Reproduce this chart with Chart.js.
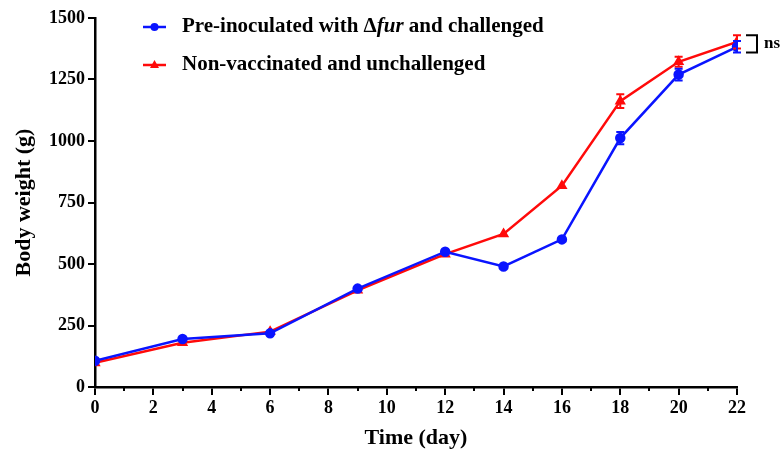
<!DOCTYPE html>
<html>
<head>
<meta charset="utf-8">
<script src="https://cdn.jsdelivr.net/npm/chart.js@4"></script>
<style>
  html, body { margin: 0; padding: 0; background: #fff; }
  #wrap { width: 781px; height: 449px; }
</style>
</head>
<body>
<div id="wrap"><canvas id="myChart"></canvas></div>
<script>
// data
const days = [0, 3, 6, 9, 12, 14, 16, 18, 20, 22];
const preInoculated = [107, 195, 218, 400, 550, 490, 600, 1012, 1270, 1383];
const preInoculatedErr = [8, 8, 8, 8, 8, 8, 8, 25, 24, 23];
const nonVaccinated = [98, 180, 225, 393, 540, 622, 818, 1162, 1322, 1403];
const nonVaccinatedErr = [6, 6, 6, 6, 6, 6, 6, 28, 20, 27];
const yTicks = [0, 250, 500, 750, 1000, 1250, 1500];

const FONT = '"Liberation Serif", "Times New Roman", serif';
const BLUE = "#0a14ff";
const RED = "#ff0a0a";

const toPoints = (vals) => vals.map((v, i) => ({ x: days[i], y: v }));

// error bars with caps
const errorBars = {
  id: "errorBars",
  afterDatasetsDraw(chart) {
    const { ctx, scales } = chart;
    const errs = [preInoculatedErr, nonVaccinatedErr];
    // red first so blue sits on top
    [1, 0].forEach((di) => {
      const ds = chart.data.datasets[di];
      ctx.save();
      ctx.strokeStyle = ds.borderColor;
      ctx.lineWidth = 2;
      ds.data.forEach((p, i) => {
        const e = errs[di][i];
        const x = scales.x.getPixelForValue(p.x);
        const yt = scales.y.getPixelForValue(p.y + e);
        const yb = scales.y.getPixelForValue(p.y - e);
        if (yb - yt < 8) return;
        ctx.beginPath();
        ctx.moveTo(x, yt); ctx.lineTo(x, yb);
        ctx.moveTo(x - 4, yt); ctx.lineTo(x + 4, yt);
        ctx.moveTo(x - 4, yb); ctx.lineTo(x + 4, yb);
        ctx.stroke();
      });
      ctx.restore();
    });
  },
};

// short minor ticks on x, legend with italic "fur", ns bracket
const extras = {
  id: "extras",
  afterDraw(chart) {
    const { ctx, scales } = chart;
    ctx.save();
    ctx.strokeStyle = "#000";
    ctx.lineWidth = 2;
    const y0 = scales.x.top;
    for (let d = 1; d < 22; d += 2) {
      const x = Math.round(scales.x.getPixelForValue(d));
      ctx.beginPath();
      ctx.moveTo(x, y0); ctx.lineTo(x, y0 + 4);
      ctx.stroke();
    }

    const rows = [
      { y: 27, color: BLUE, marker: "circle", parts: [["Pre-inoculated with \u0394", ""], ["fur", "italic "], [" and challenged", ""]] },
      { y: 65, color: RED, marker: "triangle", parts: [["Non-vaccinated and unchallenged", ""]] },
    ];
    rows.forEach((r) => {
      ctx.strokeStyle = r.color;
      ctx.fillStyle = r.color;
      ctx.lineWidth = 2.5;
      ctx.beginPath();
      ctx.moveTo(143, r.y); ctx.lineTo(166, r.y);
      ctx.stroke();
      ctx.beginPath();
      if (r.marker === "circle") {
        ctx.arc(154.5, r.y, 4, 0, Math.PI * 2);
      } else {
        ctx.moveTo(154.5, r.y - 5); ctx.lineTo(159, r.y + 3); ctx.lineTo(150, r.y + 3);
        ctx.closePath();
      }
      ctx.fill();
      ctx.fillStyle = "#000";
      ctx.textBaseline = "middle";
      let x = 182;
      r.parts.forEach(([t, style]) => {
        ctx.font = style + "bold 21px " + FONT;
        ctx.fillText(t, x, r.y);
        x += ctx.measureText(t).width;
      });
    });

    // ns bracket between the two day-22 values
    const n = days.length - 1;
    const top = scales.y.getPixelForValue(nonVaccinated[n] + nonVaccinatedErr[n]);
    const bot = scales.y.getPixelForValue(preInoculated[n] - preInoculatedErr[n]);
    ctx.strokeStyle = "#000";
    ctx.lineWidth = 2;
    ctx.beginPath();
    ctx.moveTo(746, top); ctx.lineTo(757, top); ctx.lineTo(757, bot); ctx.lineTo(746, bot);
    ctx.stroke();
    ctx.fillStyle = "#000";
    ctx.font = "bold 17px " + FONT;
    ctx.textBaseline = "middle";
    ctx.fillText("ns", 764, (top + bot) / 2);
    ctx.restore();
  },
};

new Chart(document.getElementById("myChart"), {
  type: "line",
  data: {
    datasets: [
      {
        label: "Pre-inoculated with \u0394fur and challenged",
        data: toPoints(preInoculated),
        borderColor: BLUE,
        backgroundColor: BLUE,
        borderWidth: 2.5,
        pointStyle: "circle",
        pointRadius: 4,
        tension: 0,
      },
      {
        label: "Non-vaccinated and unchallenged",
        data: toPoints(nonVaccinated),
        borderColor: RED,
        backgroundColor: RED,
        borderWidth: 2.5,
        pointStyle: "triangle",
        pointRadius: 4,
        tension: 0,
      },
    ],
  },
  options: {
    responsive: true,
    maintainAspectRatio: false,
    animation: false,
    layout: { padding: { left: 0, right: 44, top: 18, bottom: 0 } },
    plugins: {
      legend: { display: false },
      tooltip: { enabled: false },
    },
    scales: {
      x: {
        type: "linear",
        min: 0,
        max: 22,
        border: { color: "#000", width: 2.5 },
        grid: {
          drawOnChartArea: false,
          drawTicks: true,
          tickLength: 8,
          lineWidth: 2,
          color: (c) => (c.tick && c.tick.value % 2 === 0 ? "#000" : "rgba(0,0,0,0)"),
        },
        ticks: {
          stepSize: 1,
          autoSkip: false,
          maxRotation: 0,
          padding: 3,
          color: "#000",
          font: { family: FONT, size: 18, weight: "bold" },
          callback: (v) => (v % 2 === 0 ? String(v) : ""),
        },
        title: {
          display: true,
          text: "Time (day)",
          color: "#000",
          font: { family: FONT, size: 22, weight: "bold" },
          padding: { top: 0, bottom: -3 },
        },
        afterFit: (s) => { s.height = 62; },
      },
      y: {
        min: 0,
        max: 1500,
        border: { color: "#000", width: 2.5 },
        grid: { drawOnChartArea: false, drawTicks: true, tickLength: 7, color: "#000", lineWidth: 2 },
        afterBuildTicks: (s) => { s.ticks = yTicks.map((v) => ({ value: v })); },
        ticks: {
          padding: 3,
          color: "#000",
          font: { family: FONT, size: 18, weight: "bold" },
          callback: (v) => String(v),
        },
        title: {
          display: true,
          text: "Body weight (g)",
          color: "#000",
          font: { family: FONT, size: 22, weight: "bold" },
          padding: { top: 11, bottom: 0 },
        },
        afterFit: (s) => { s.width = 95; },
      },
    },
  },
  plugins: [errorBars, extras],
});
</script>
</body>
</html>
